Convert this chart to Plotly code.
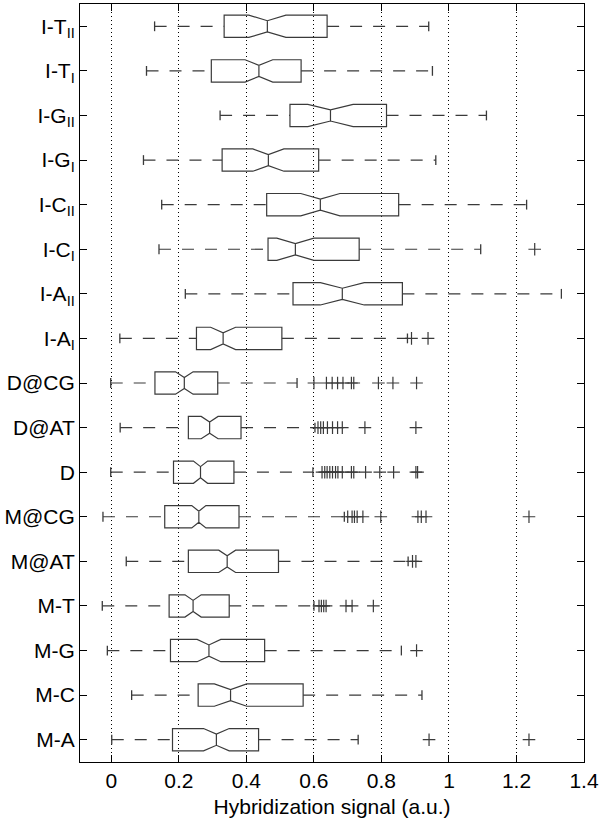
import plotly.graph_objects as go

# Categories, top to bottom
categories = ["I-T_II", "I-T_I", "I-G_II", "I-G_I", "I-C_II", "I-C_I", "I-A_II", "I-A_I",
              "D@CG", "D@AT", "D", "M@CG", "M@AT", "M-T", "M-G", "M-C", "M-A"]
tick_labels = ["I-T<sub>II</sub>", "I-T<sub>I</sub>", "I-G<sub>II</sub>", "I-G<sub>I</sub>",
               "I-C<sub>II</sub>", "I-C<sub>I</sub>", "I-A<sub>II</sub>", "I-A<sub>I</sub>",
               "D@CG", "D@AT", "D", "M@CG", "M@AT", "M-T", "M-G", "M-C", "M-A"]

lower_whisker = [0.128, 0.104, 0.322, 0.095, 0.149, 0.141, 0.219, 0.025,
                 -0.002, 0.026, -0.002, -0.025, 0.044, -0.027, -0.012, 0.060, 0.001]
q1 = [0.334, 0.296, 0.529, 0.328, 0.460, 0.464, 0.538, 0.252,
      0.129, 0.228, 0.184, 0.158, 0.228, 0.171, 0.175, 0.257, 0.181]
median = [0.462, 0.437, 0.649, 0.465, 0.619, 0.545, 0.684, 0.331,
          0.216, 0.291, 0.264, 0.259, 0.343, 0.242, 0.289, 0.353, 0.311]
q3 = [0.639, 0.562, 0.815, 0.614, 0.851, 0.734, 0.862, 0.505,
      0.315, 0.384, 0.363, 0.378, 0.495, 0.349, 0.454, 0.568, 0.436]
upper_whisker = [0.940, 0.951, 1.111, 0.961, 1.230, 1.094, 1.333, 0.877,
                 0.550, 0.603, 0.597, 0.690, 0.879, 0.600, 0.859, 0.920, 0.731]
notch_span = [0.055, 0.041, 0.067, 0.046, 0.058, 0.055, 0.065, 0.037,
              0.026, 0.025, 0.021, 0.021, 0.025, 0.024, 0.035, 0.048, 0.038]
outliers = [
    [], [], [], [], [], [1.254], [], [0.889, 0.938],
    [0.600, 0.637, 0.654, 0.670, 0.686, 0.711, 0.718, 0.791, 0.834, 0.904],
    [0.612, 0.620, 0.628, 0.640, 0.655, 0.670, 0.684, 0.751, 0.902],
    [0.624, 0.632, 0.639, 0.647, 0.655, 0.664, 0.671, 0.684, 0.711, 0.718,
     0.753, 0.795, 0.836, 0.902, 0.907],
    [0.700, 0.713, 0.720, 0.728, 0.745, 0.798, 0.908, 0.918, 0.932, 1.237],
    [0.892, 0.902],
    [0.615, 0.622, 0.629, 0.636, 0.695, 0.713, 0.776],
    [0.904],
    [],
    [0.941, 1.237],
]

x_ticks = [0, 0.2, 0.4, 0.6, 0.8, 1.0, 1.2, 1.4]
x_tick_labels = ["0", "0.2", "0.4", "0.6", "0.8", "1", "1.2", "1.4"]

LINE = "#3a3a3a"
FONT = "Liberation Sans, Arial, sans-serif"

fig = go.Figure()

# dashed whiskers
wx, wy = [], []
for c, lw, a, b, uw in zip(categories, lower_whisker, q1, q3, upper_whisker):
    wx += [lw, a, None, b, uw, None]
    wy += [c, c, None, c, c, None]
fig.add_trace(go.Scatter(x=wx, y=wy, mode="lines", connectgaps=False,
                         line=dict(color=LINE, width=1.2, dash="12px,11px"),
                         hoverinfo="skip", showlegend=False))

# whisker caps
cx, cy = [], []
for c, lw, uw in zip(categories, lower_whisker, upper_whisker):
    cx += [lw, uw]
    cy += [c, c]
fig.add_trace(go.Scatter(x=cx, y=cy, mode="markers",
                         marker=dict(symbol="line-ns", size=7,
                                     line=dict(color=LINE, width=1.3)),
                         hoverinfo="skip", showlegend=False))

# notched boxes
fig.add_trace(go.Box(
    y=categories, q1=q1, median=median, q3=q3,
    lowerfence=q1, upperfence=q3, notchspan=notch_span,
    orientation="h", notched=True, notchwidth=0.25, whiskerwidth=0,
    width=0.5, fillcolor="rgba(0,0,0,0)",
    line=dict(color=LINE, width=1.2), boxpoints=False,
    hoverinfo="skip", showlegend=False))

# outliers
ox, oy = [], []
for c, vals in zip(categories, outliers):
    for v in vals:
        ox.append(v)
        oy.append(c)
fig.add_trace(go.Scatter(x=ox, y=oy, mode="markers",
                         marker=dict(symbol="cross-thin", size=9,
                                     line=dict(color=LINE, width=1.2)),
                         hoverinfo="skip", showlegend=False))

fig.update_layout(
    width=600, height=821,
    margin=dict(l=80, r=16, t=4, b=59),
    paper_bgcolor="white", plot_bgcolor="white",
    font=dict(family=FONT, size=21, color="black"),
    showlegend=False,
    xaxis=dict(
        range=[-0.093, 1.4], tickvals=x_ticks, ticktext=x_tick_labels,
        ticks="inside", ticklen=7, tickcolor="black", tickwidth=1,
        showline=True, linecolor="black", linewidth=1, mirror="allticks",
        showgrid=True, gridcolor="black", gridwidth=1, griddash="1px,3px",
        zeroline=False, automargin=False,
        title=dict(text="Hybridization signal (a.u.)", font=dict(size=21), standoff=8),
        tickfont=dict(size=21),
    ),
    yaxis=dict(
        type="category", categoryorder="array", categoryarray=categories,
        range=[len(categories) - 0.5, -0.5],
        tickvals=categories, ticktext=tick_labels,
        ticks="inside", ticklen=7, tickcolor="black", tickwidth=1,
        showline=True, linecolor="black", linewidth=1, mirror="allticks",
        showgrid=False, zeroline=False, tickfont=dict(size=21),
        automargin=False,
    ),
)

fig.write_html("out.html",
               config={"displayModeBar": False},
               post_script="document.body.style.margin='0px';document.body.style.overflow='hidden';")
